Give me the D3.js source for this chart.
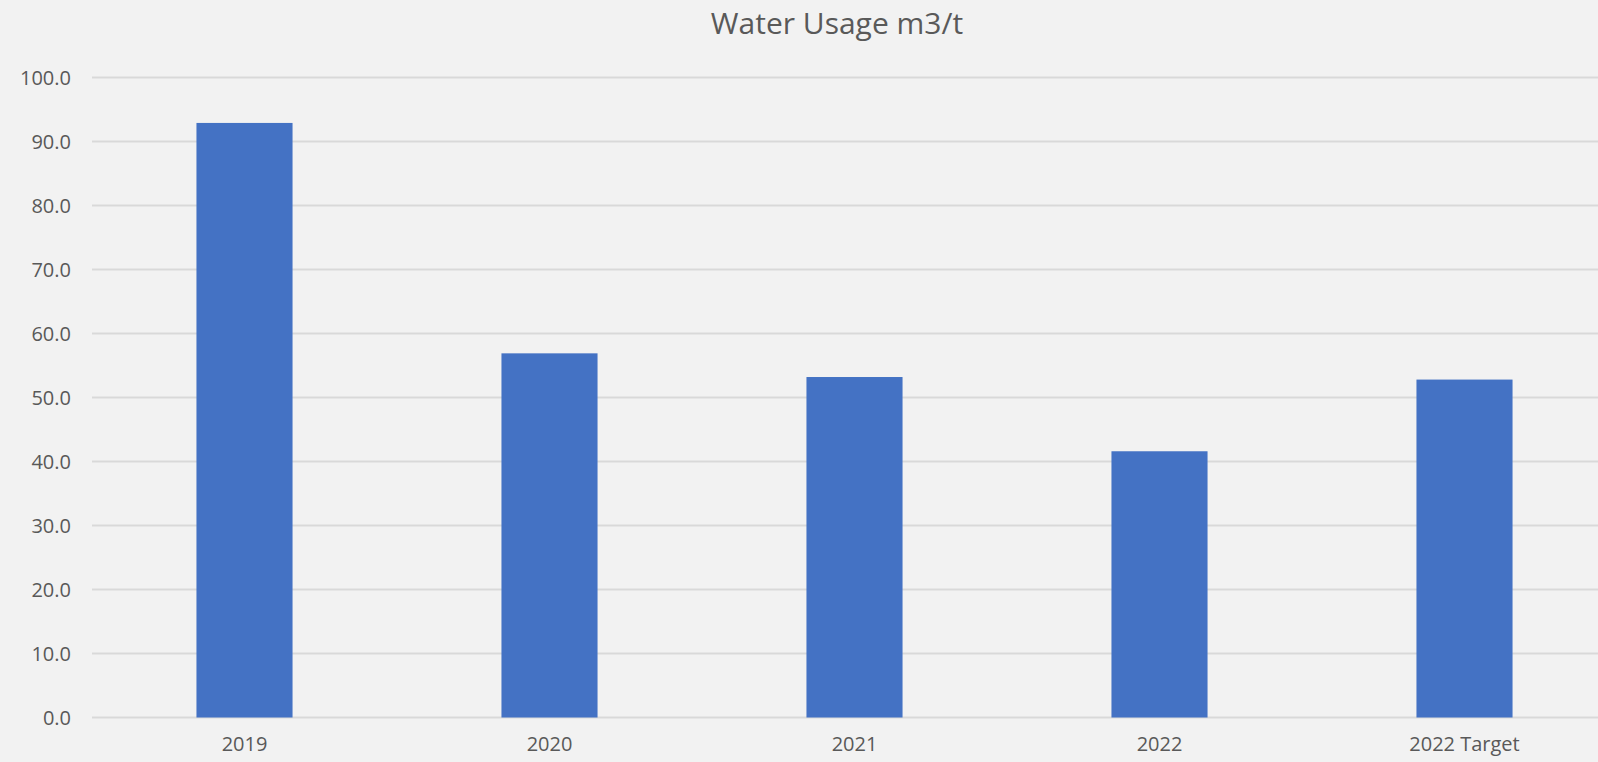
<!DOCTYPE html>
<html lang="en">
<head>
<meta charset="UTF-8">
<title>Water Usage m3/t</title>
<script src="https://d3js.org/d3.v7.min.js"></script>
<style>
  body { margin: 0; background: #f2f2f2; overflow: hidden; }
  svg { display: block; }
  .grid line { stroke: #d9d9d9; stroke-width: 2px; }
  .axis { font-family: 'Open Sans', 'Noto Sans', sans-serif; }
  .axis .tick text { fill: #595959; font-size: 20px; }
</style>
</head>
<body>
<svg id="chart"></svg>
<script>
const categories = ["2019", "2020", "2021", "2022", "2022 Target"];
const usage = [92.9, 56.9, 53.2, 41.6, 52.8];
const yTicks = [0, 10, 20, 30, 40, 50, 60, 70, 80, 90, 100];

const width = 1598, height = 762;
const svg = d3.select("#chart").attr("width", width).attr("height", height);

// plot runs past the right edge, like the original crop
const x = d3.scaleBand()
    .domain(categories)
    .range([92, 1617])
    .paddingInner(0.685)
    .paddingOuter(0.3425);

const y = d3.scaleLinear().domain([0, 100]).range([717.5, 77.5]);

// gridlines
svg.append("g").attr("class", "grid")
  .selectAll("line")
  .data(yTicks)
  .join("line")
    .attr("x1", 92).attr("x2", 1617)
    .attr("y1", d => y(d)).attr("y2", d => y(d));

// y axis labels
svg.append("g")
    .attr("class", "axis")
    .attr("transform", "translate(71,0)")
    .call(d3.axisLeft(y).tickValues(yTicks).tickFormat(d3.format(".1f")).tickSize(0).tickPadding(0))
    .call(g => g.select(".domain").remove())
    .call(g => g.attr("font-family", null).attr("font-size", null))
    .selectAll("text").attr("dy", "0.35em");

// bars
svg.append("g")
  .selectAll("rect")
  .data(usage)
  .join("rect")
    .attr("x", (d, i) => x(categories[i]))
    .attr("y", d => y(d))
    .attr("width", x.bandwidth())
    .attr("height", d => y(0) - y(d))
    .attr("fill", "#4472c4");

// x axis labels
svg.append("g")
    .attr("class", "axis")
    .attr("transform", `translate(0,${y(0)})`)
    .call(d3.axisBottom(x).tickSize(0).tickPadding(19))
    .call(g => g.select(".domain").remove())
    .call(g => g.attr("font-family", null).attr("font-size", null));

// title
svg.append("text")
    .attr("x", 837)
    .attr("y", 34)
    .attr("text-anchor", "middle")
    .attr("fill", "#595959")
    .style("font-family", "'Open Sans', 'Noto Sans', sans-serif")
    .style("font-size", "30px")
    .text("Water Usage m3/t");
</script>
</body>
</html>
